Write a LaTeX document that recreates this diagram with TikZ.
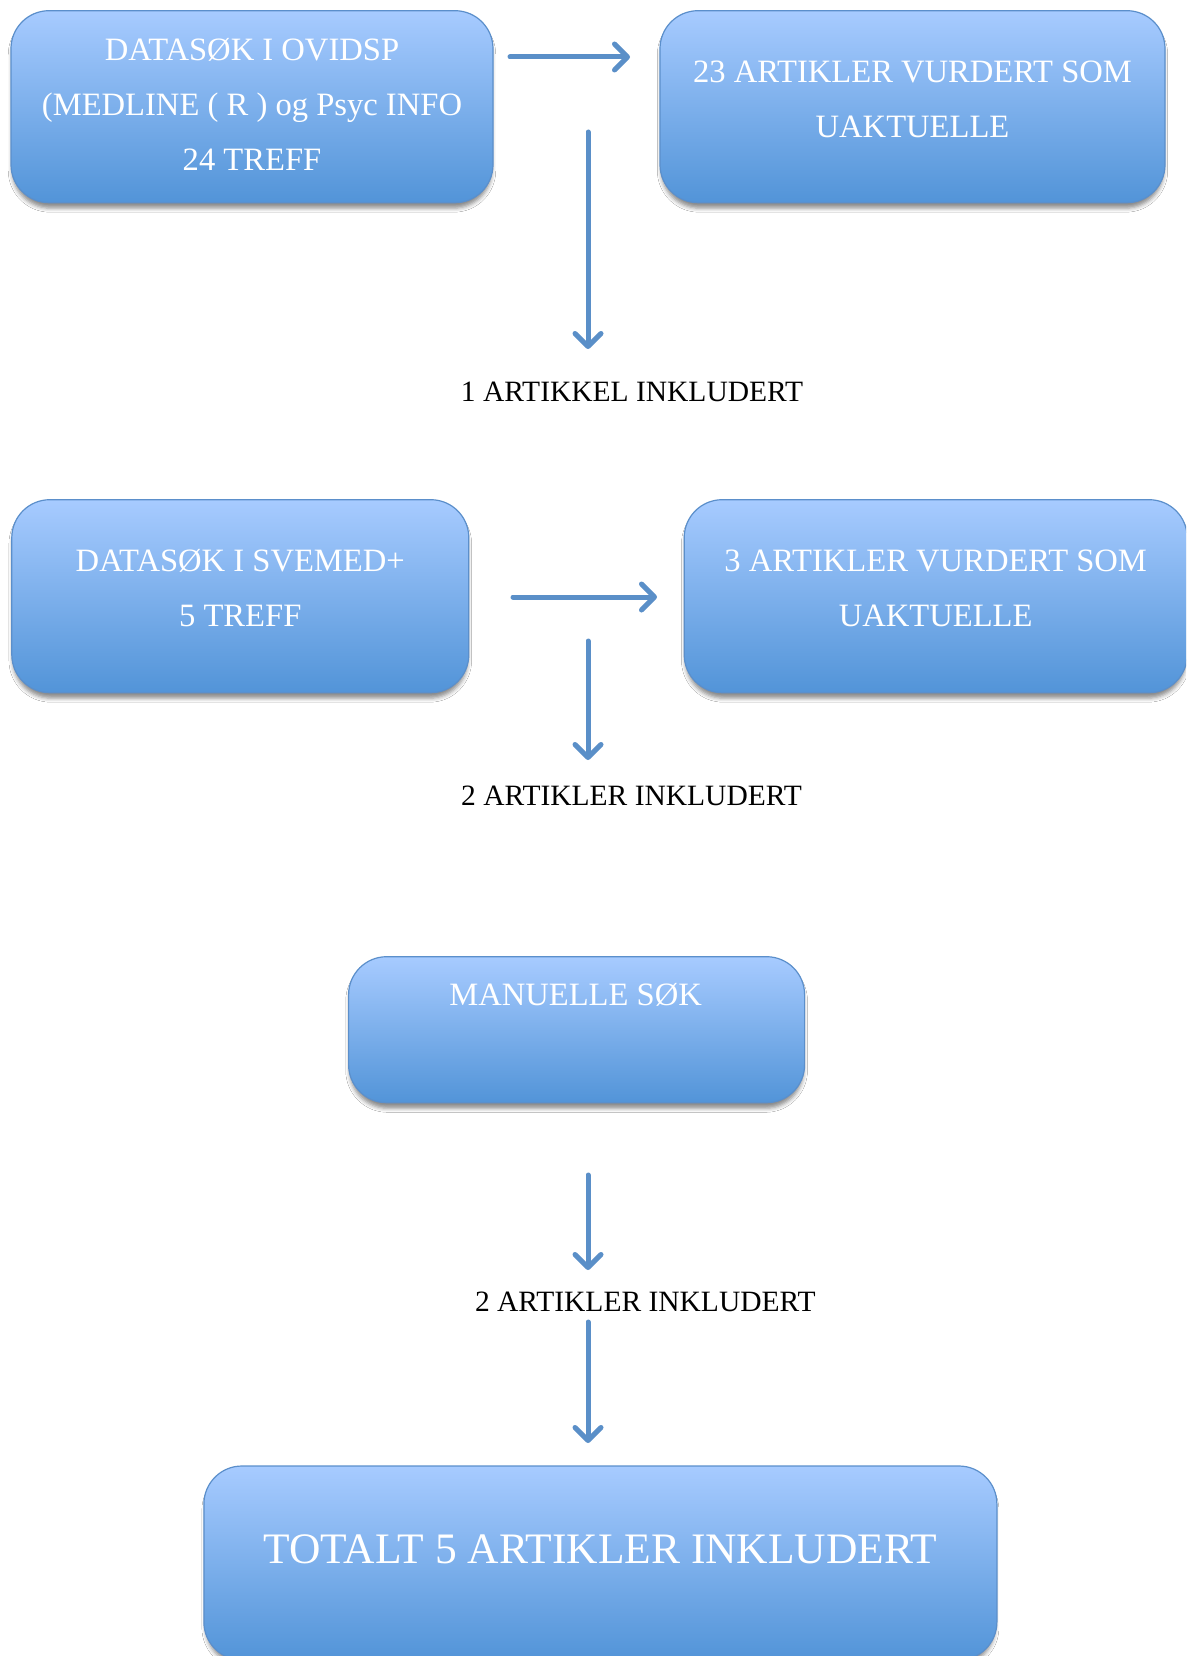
\documentclass[tikz,border=0pt]{standalone}
\usepackage{fontspec}
\setmainfont{Liberation Serif}
\usetikzlibrary{arrows.meta,shadows.blur}

\definecolor{boxtop}{HTML}{A7CBFF}
\definecolor{boxbot}{HTML}{5294D8}
\definecolor{boxline}{HTML}{5B8FCB}
\definecolor{arrowblue}{HTML}{5A8FC8}

\tikzset{
  flowbox/.style={draw=boxline, line width=1.2pt, rounded corners=38pt,
    top color=boxtop, bottom color=boxbot, inner sep=0pt,
    blur shadow={shadow xshift=0pt, shadow yshift=-6pt,
      shadow blur radius=4pt, shadow scale=0.995, shadow opacity=45}},
  boxtext/.style={text=white, align=center, inner sep=0pt,
    font=\fontsize{32.6}{55}\selectfont},
  bigtext/.style={text=white, align=center, inner sep=0pt,
    font=\fontsize{43.5}{50}\selectfont},
  counttext/.style={text=black, inner sep=0pt,
    font=\fontsize{29.5}{34}\selectfont},
  flow/.style={draw=arrowblue, line width=5pt, line cap=round,
    -{Straight Barb[length=13pt, width=26pt, line cap=round, line join=round]}},
}

\begin{document}
\begin{tikzpicture}[x=1pt, y=-1pt]
\clip (0,0) rectangle (1186,1656);
\fill[white] (0,0) rectangle (1186,1656);

% boxes
\node[flowbox, minimum width=482pt, minimum height=192pt] (b1) at (252,106.7) {};
\node[flowbox, minimum width=505pt, minimum height=192pt] (b2) at (912.5,106.7) {};
\node[flowbox, minimum width=457pt, minimum height=193pt] (b3) at (240.3,596.2) {};
\node[flowbox, minimum width=503pt, minimum height=193pt] (b4) at (935.7,596.2) {};
\node[flowbox, minimum width=456pt, minimum height=146pt] (b5) at (576.6,1029.7) {};
\node[flowbox, minimum width=793pt, minimum height=194pt] (b6) at (600.4,1563) {};

% box texts
\node[boxtext] (t1) at (252,104.5) {DATASØK I OVIDSP\\(MEDLINE ( R ) og Psyc INFO\\24 TREFF};
\node[boxtext] (t2) at (912.5,99) {23 ARTIKLER VURDERT SOM\\UAKTUELLE};
\node[boxtext] (t3) at (240.3,588) {DATASØK I SVEMED+\\5 TREFF};
\node[boxtext] (t4) at (935.7,588) {3 ARTIKLER VURDERT SOM\\UAKTUELLE};
\node[boxtext] (t5) at (575.6,994.5) {MANUELLE SØK};
\node[bigtext] (t6) at (600.4,1549) {TOTALT 5 ARTIKLER INKLUDERT};

% counts between steps
\node[counttext] (c1) at (632,392) {1 ARTIKKEL INKLUDERT};
\node[counttext] (c2) at (631.5,796.3) {2 ARTIKLER INKLUDERT};
\node[counttext] (c3) at (645.3,1302) {2 ARTIKLER INKLUDERT};

% arrow ends
\coordinate (a1s) at (510,57);   \coordinate (a1e) at (630,57);
\coordinate (a2s) at (588,132);  \coordinate (a2e) at (588,349);
\coordinate (a3s) at (513,597);  \coordinate (a3e) at (657,597);
\coordinate (a4s) at (588,641);  \coordinate (a4e) at (588,760);
\coordinate (a5s) at (588,1175); \coordinate (a5e) at (588,1270);
\coordinate (a6s) at (588,1322); \coordinate (a6e) at (588,1443);

\draw[flow] (a1s) -- (a1e);
\draw[flow] (a2s) -- (a2e);
\draw[flow] (a3s) -- (a3e);
\draw[flow] (a4s) -- (a4e);
\draw[flow] (a5s) -- (a5e);
\draw[flow] (a6s) -- (a6e);
\end{tikzpicture}
\end{document}
